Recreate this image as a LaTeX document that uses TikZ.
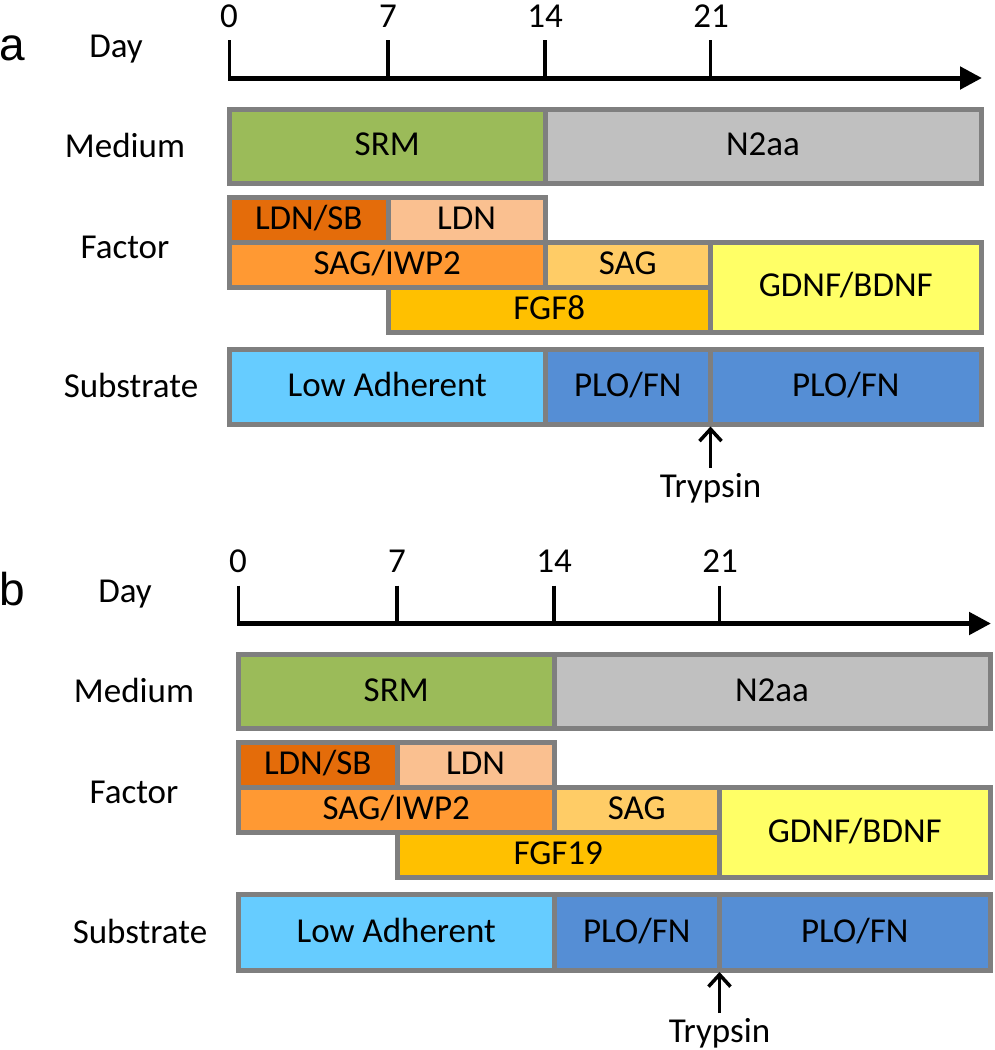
\documentclass[tikz,border=0pt]{standalone}
\usepackage{fontspec}
\setmainfont{Carlito}
\newfontfamily\letterfont{Liberation Sans}
\usetikzlibrary{arrows.meta}
\definecolor{bordergray}{HTML}{7F7F7F}
\definecolor{srmgreen}{HTML}{9BBB59}
\definecolor{n2gray}{HTML}{C0C0C0}
\definecolor{ldnsbcol}{HTML}{E46C0A}
\definecolor{ldncol}{HTML}{FAC090}
\definecolor{sagiwpcol}{HTML}{FF9933}
\definecolor{sagcol}{HTML}{FFCC66}
\definecolor{fgfcol}{HTML}{FFC000}
\definecolor{gdnfcol}{HTML}{FFFF66}
\definecolor{lowcol}{HTML}{66CCFF}
\definecolor{plocol}{HTML}{558ED5}
\tikzset{
  cell/.style={draw=bordergray, line width=5pt, rectangle, inner sep=0pt, outer sep=0pt,
    font=\fontsize{35}{42}\selectfont, text height=19.5pt, text depth=0pt},
  lbl/.style={anchor=base, inner sep=0pt, font=\fontsize{35}{42}\selectfont},
  panelletter/.style={anchor=base west, inner sep=0pt, font=\letterfont\fontsize{46}{52}\selectfont},
  axisline/.style={line width=5pt, -{Triangle[length=22pt,width=22pt]}},
  tickline/.style={line width=3.5pt},
  trypsinarrow/.style={line width=3.5pt, -{Straight Barb[length=12pt,width=22pt]}}
}
\newcommand\cellat[7]{%
  \node[cell, fill=#6, minimum width={#4-#2}, minimum height={#5-#3}] (#1) at ({(#2+#4)/2},{(#3+#5)/2}) {#7};}
\newcommand\timelinepanel[2]{%
  \node[lbl] (#1day) at (116,57) {Day};
  \node[lbl] (#1medium) at (125,157) {Medium};
  \node[lbl] (#1factor) at (125,258) {Factor};
  \node[lbl] (#1substrate) at (131,397.5) {Substrate};
  \node[lbl] (#1d0) at (229,27) {0};
  \node[lbl] (#1d7) at (388,27) {7};
  \node[lbl] (#1d14) at (545,27) {14};
  \node[lbl] (#1d21) at (711,27) {21};
  \coordinate (#1axs) at (228,78);
  \coordinate (#1axe) at (982,78);
  \foreach \tx/\tn in {229.5/0,388/7,545/14,710.5/21}{
    \coordinate (#1tt\tn) at (\tx,40);
    \coordinate (#1tb\tn) at (\tx,80);
    \draw[tickline] (#1tt\tn) -- (#1tb\tn);
  }
  \draw[axisline] (#1axs) -- (#1axe);
  \cellat{#1srm}{229.5}{109}{545}{183}{srmgreen}{SRM}
  \cellat{#1ntwo}{545}{109}{981}{183}{n2gray}{N2aa}
  \cellat{#1ldnsb}{229.5}{197}{388}{242}{ldnsbcol}{LDN/SB}
  \cellat{#1ldn}{388}{197}{545}{242}{ldncol}{LDN}
  \cellat{#1sagiwp}{229.5}{242}{545}{287}{sagiwpcol}{SAG/IWP2}
  \cellat{#1sag}{545}{242}{710.5}{287}{sagcol}{SAG}
  \cellat{#1fgf}{388}{287}{710.5}{332}{fgfcol}{#2}
  \cellat{#1gdnf}{710.5}{242}{981}{332}{gdnfcol}{GDNF/BDNF}
  \cellat{#1low}{229.5}{349}{545}{424.5}{lowcol}{Low Adherent}
  \cellat{#1ploa}{545}{349}{710.5}{424.5}{plocol}{PLO/FN}
  \cellat{#1plob}{710.5}{349}{981}{424.5}{plocol}{PLO/FN}
  \node[lbl] (#1tryp) at (710.5,497) {Trypsin};
  \draw[trypsinarrow] ([yshift=5pt]#1tryp.north) -- ([yshift=-2pt]#1plob.south west);
}
\begin{document}
\begin{tikzpicture}[x=1pt,y=-1pt]
\useasboundingbox (0,0) rectangle (994,1050);
\node[panelletter] (lettera) at (-1,60) {a};
\node[panelletter] (letterb) at (-1,605) {b};
\begin{scope}
\timelinepanel{pa}{FGF8}
\end{scope}
\begin{scope}[shift={(9,545.5)}]
\timelinepanel{pb}{FGF19}
\end{scope}
\end{tikzpicture}
\end{document}
